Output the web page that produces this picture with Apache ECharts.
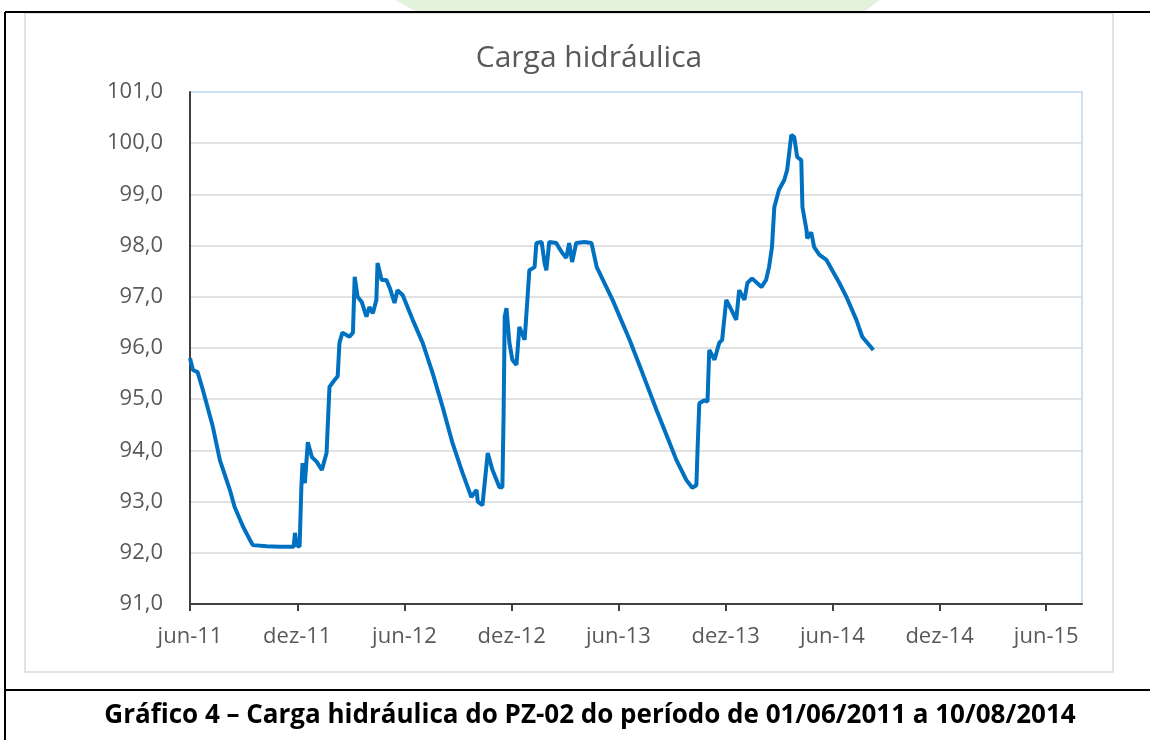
<!DOCTYPE html>
<html>
<head>
<meta charset="utf-8">
<script src="https://cdn.jsdelivr.net/npm/echarts@6/dist/echarts.min.js"></script>
<style>
  html, body { margin: 0; padding: 0; background: #fff; }
  #chart { width: 1150px; height: 740px; }
</style>
</head>
<body>
<div id="chart"></div>
<script>
// leituras do gráfico (data da leitura, carga hidráulica em m)
var dates = [
    '2011-06-01', '2011-06-06', '2011-06-14', '2011-06-23', '2011-07-10', '2011-07-22', '2011-08-08', '2011-08-16',
    '2011-08-31', '2011-09-16', '2011-10-10', '2011-11-01', '2011-11-25', '2011-11-27', '2011-11-30', '2011-12-05',
    '2011-12-08', '2011-12-10', '2011-12-14', '2011-12-19', '2011-12-26', '2012-01-03', '2012-01-12', '2012-01-20',
    '2012-01-25', '2012-02-03', '2012-02-08', '2012-02-11', '2012-02-16', '2012-02-28', '2012-03-05', '2012-03-08',
    '2012-03-13', '2012-03-20', '2012-03-28', '2012-04-02', '2012-04-08', '2012-04-14', '2012-04-16', '2012-04-23',
    '2012-05-01', '2012-05-07', '2012-05-15', '2012-05-20', '2012-05-29', '2012-06-15', '2012-07-02', '2012-07-19',
    '2012-08-05', '2012-08-22', '2012-09-08', '2012-09-23', '2012-10-02', '2012-10-04', '2012-10-12', '2012-10-21',
    '2012-10-29', '2012-11-10', '2012-11-15', '2012-11-17', '2012-11-19', '2012-11-22', '2012-11-27', '2012-12-02',
    '2012-12-09', '2012-12-14', '2012-12-23', '2012-12-28', '2012-12-31', '2013-01-09', '2013-01-12', '2013-01-21',
    '2013-01-26', '2013-01-29', '2013-02-03', '2013-02-15', '2013-02-20', '2013-02-25', '2013-03-04', '2013-03-09',
    '2013-03-14', '2013-03-21', '2013-04-04', '2013-04-16', '2013-04-25', '2013-05-22', '2013-06-20', '2013-07-12',
    '2013-08-05', '2013-08-22', '2013-09-08', '2013-09-25', '2013-10-05', '2013-10-12', '2013-10-14', '2013-10-17',
    '2013-10-26', '2013-10-31', '2013-11-03', '2013-11-12', '2013-11-20', '2013-11-25', '2013-12-02', '2013-12-11',
    '2013-12-19', '2013-12-24', '2014-01-02', '2014-01-07', '2014-01-15', '2014-01-31', '2014-02-08', '2014-02-13',
    '2014-02-18', '2014-02-22', '2014-03-02', '2014-03-11', '2014-03-16', '2014-03-23', '2014-03-28', '2014-04-02',
    '2014-04-09', '2014-04-11', '2014-04-18', '2014-04-19', '2014-04-26', '2014-05-01', '2014-05-10', '2014-05-22',
    '2014-06-13', '2014-06-25', '2014-07-12', '2014-07-22', '2014-08-10'
];
var carga = [
    95.80, 95.57, 95.53, 95.18, 94.46, 93.81, 93.23, 92.90,
    92.50, 92.15, 92.13, 92.12, 92.12, 92.39, 92.15, 92.12,
    93.28, 93.75, 93.36, 94.16, 93.87, 93.78, 93.62, 93.95,
    95.24, 95.38, 95.45, 96.10, 96.30, 96.22, 96.30, 97.39,
    97.00, 96.90, 96.61, 96.80, 96.68, 96.94, 97.66, 97.33,
    97.33, 97.17, 96.88, 97.13, 97.03, 96.55, 96.10, 95.51,
    94.85, 94.14, 93.56, 93.09, 93.23, 93.00, 92.93, 93.95,
    93.62, 93.28, 93.28, 94.65, 96.61, 96.78, 96.10, 95.77,
    95.67, 96.41, 96.16, 97.00, 97.52, 97.58, 98.05, 98.07,
    97.66, 97.52, 98.07, 98.05, 97.95, 97.86, 97.76, 98.05,
    97.68, 98.05, 98.07, 98.05, 97.58, 96.94, 96.16, 95.51,
    94.79, 94.30, 93.81, 93.42, 93.27, 93.32, 94.00, 94.92,
    94.98, 94.95, 95.96, 95.77, 96.10, 96.16, 96.94, 96.74,
    96.55, 97.13, 96.94, 97.27, 97.36, 97.19, 97.33, 97.58,
    97.97, 98.75, 99.09, 99.28, 99.48, 100.16, 100.12, 99.73,
    99.67, 98.75, 98.30, 98.14, 98.26, 97.97, 97.82, 97.72,
    97.27, 97.00, 96.55, 96.22, 95.96
];
var tickDates = ['2011-06-01', '2011-12-01', '2012-06-01', '2012-12-01', '2013-06-01',
    '2013-12-01', '2014-06-01', '2014-12-01', '2015-06-01'];
var tickLabels = ['jun-11', 'dez-11', 'jun-12', 'dez-12', 'jun-13', 'dez-13', 'jun-14', 'dez-14', 'jun-15'];

function toTime(s) {
    var p = s.split('-');
    return Date.UTC(+p[0], +p[1] - 1, +p[2]);
}

var tickValues = tickDates.map(toTime);
var seriesData = dates.map(function (d, i) { return [toTime(d), carga[i]]; });

var labelFont = '"Open Sans", sans-serif';
var chart = echarts.init(document.getElementById('chart'));
chart.setOption({
    backgroundColor: '#fff',
    animation: false,
    title: {
        text: 'Carga hidráulica',
        left: 584,
        top: 38,
        textAlign: 'center',
        textStyle: { fontFamily: labelFont, fontSize: 30, fontWeight: 'normal', color: '#595959' }
    },
    grid: {
        left: 190, top: 92, width: 892, height: 512,
        show: true, borderColor: '#bdd7ee', borderWidth: 1.5, backgroundColor: 'transparent'
    },
    xAxis: {
        type: 'value',
        min: toTime('2011-06-01'),
        max: toTime('2015-08-01'),
        axisLine: { lineStyle: { color: '#404040', width: 2 } },
        axisTick: { show: true, length: 7, customValues: tickValues, lineStyle: { color: '#404040', width: 2 } },
        axisLabel: {
            customValues: tickValues,
            margin: 22,
            fontFamily: labelFont, fontSize: 22, color: '#595959',
            formatter: function (v) {
                var i = tickValues.indexOf(v);
                return i >= 0 ? tickLabels[i] : '';
            }
        },
        splitLine: { show: false }
    },
    yAxis: {
        type: 'value',
        min: 91, max: 101, interval: 1,
        axisLine: { show: true, lineStyle: { color: '#404040', width: 2 } },
        axisTick: { show: false },
        axisLabel: {
            margin: 27,
            fontFamily: labelFont, fontSize: 22, color: '#595959',
            formatter: function (v) { return v.toFixed(1).replace('.', ','); }
        },
        splitLine: { show: true, showMaxLine: false, lineStyle: { color: '#d9d9d9', width: 1.5 } }
    },
    series: [{
        type: 'line',
        data: seriesData,
        showSymbol: false,
        lineStyle: { color: '#0070c0', width: 4 },
        itemStyle: { color: '#0070c0' }
    }],
    graphic: [
        // marca d'água no topo da página
        { type: 'polygon', silent: true, z: -10,
          shape: { points: [[395, 0], [880, 0], [865, 11], [415, 11]] },
          style: { fill: '#e3f2dd' } },
        // caixa do gráfico
        { type: 'rect', silent: true, z: -5,
          shape: { x: 25, y: 13, width: 1088, height: 659 },
          style: { fill: 'none', stroke: '#d9d9d9', lineWidth: 1.5 } },
        // bordas da tabela do documento
        { type: 'line', silent: true, shape: { x1: 5, y1: 12, x2: 1150, y2: 12 }, style: { stroke: '#000', lineWidth: 2 } },
        { type: 'line', silent: true, shape: { x1: 5, y1: 12, x2: 5, y2: 740 }, style: { stroke: '#000', lineWidth: 2 } },
        { type: 'line', silent: true, shape: { x1: 5, y1: 690, x2: 1150, y2: 690 }, style: { stroke: '#000', lineWidth: 2 } },
        { type: 'text', silent: true, x: 590, y: 716,
          style: {
              text: 'Gráfico 4 – Carga hidráulica do PZ-02 do período de 01/06/2011 a 10/08/2014',
              font: 'bold 26px "Open Sans", sans-serif', fill: '#000',
              textAlign: 'center', textVerticalAlign: 'middle'
          } }
    ]
});
</script>
</body>
</html>
